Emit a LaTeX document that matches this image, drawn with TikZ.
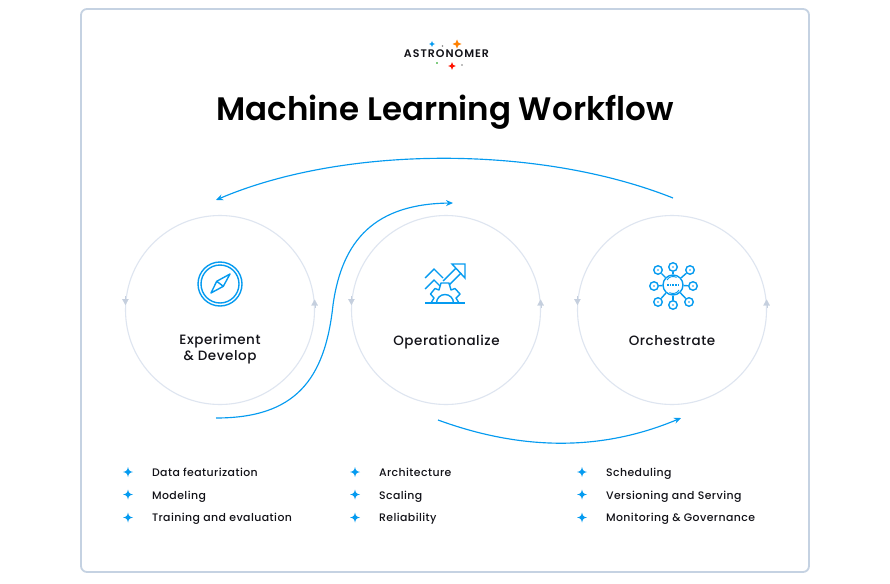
\documentclass[tikz,border=0pt]{standalone}
\usepackage{fontspec}
\usepackage{tikz}
\usetikzlibrary{arrows.meta,positioning}
\setmainfont{Poppins}
\newfontfamily\titlefont{Poppins SemiBold}
\newfontfamily\labelfont[LetterSpace=4]{Poppins Medium}
\newfontfamily\listfont[LetterSpace=4]{Poppins Medium}
\newfontfamily\logofont[LetterSpace=9]{Poppins SemiBold}
\definecolor{astroblue}{RGB}{5,155,240}
\definecolor{cardline}{RGB}{197,210,226}
\definecolor{ringline}{RGB}{222,229,240}
\definecolor{tipgray}{RGB}{197,207,222}
\definecolor{inkdark}{RGB}{18,18,24}
\newcommand{\sparkle}[3]{\fill[#1](#2)++(-#3,0)..controls +(.7*#3,.15*#3) and +(-.15*#3,-.7*#3)..++(#3,#3)..controls +(.15*#3,-.7*#3) and +(-.7*#3,.15*#3)..++(#3,-#3)..controls +(-.7*#3,-.15*#3) and +(.15*#3,.7*#3)..++(-#3,-#3)..controls +(-.15*#3,.7*#3) and +(.7*#3,-.15*#3)..cycle;}

\begin{document}
\begin{tikzpicture}[x=1pt,y=-1pt,
ring/.style={draw=ringline,line width=1.1pt,circle,minimum size=189pt,inner sep=0pt},
flow/.style={-{Stealth[length=7pt,width=6pt]},line width=1.15pt,draw=astroblue},
gtip/.style={-{Stealth[length=6pt,width=6.5pt,inset=0pt]},draw=tipgray,line width=.1pt},
icon/.style={draw=astroblue,line width=1.4pt},
sat/.style={draw=astroblue,line width=1.4pt,circle,minimum size=8.5pt,inner sep=0pt,
  path picture={\fill[astroblue](path picture bounding box.center)circle(.8);}},
hubnode/.style={draw=astroblue,line width=1.4pt,circle,minimum size=20pt,inner sep=0pt},
ringlabel/.style={font=\labelfont\fontsize{13.5}{16}\selectfont,text=inkdark,align=center},
listitem/.style={font=\listfont\fontsize{10.9}{13}\selectfont,text=inkdark,anchor=base west}]

\useasboundingbox(0,0)rectangle(890,583);
\fill[white](0,0)rectangle(890,583);
\draw[draw=cardline,line width=1.8pt,rounded corners=6pt](81,9)rectangle(809,572);

% logo
\node[font=\logofont\fontsize{11}{12}\selectfont,text=inkdark](logo)at(446.5,54){ASTRONOMER};
\sparkle{astroblue}{432,44}{3}
\sparkle{orange}{457,44}{4.5}
\sparkle{red!85!orange}{452,66}{3.8}
\fill[gray](442.5,46)circle(.8);
\fill[green!60!black](437,63)circle(.9);
\fill[gray](462,65)circle(.8);

\node[font=\titlefont\fontsize{32.5}{36}\selectfont,text=black](title)at(445,112){Machine Learning Workflow};

\node[ring](exp)at(220,310){};
\node[ring](ops)at(446,310){};
\node[ring](orc)at(672,310){};

\draw[gtip](314.6,308)--(314.6,299.5);
\draw[gtip](125.4,296)--(125.4,305);
\draw[gtip](540.6,308)--(540.6,299.5);
\draw[gtip](351.4,296)--(351.4,305);
\draw[gtip](766.6,308)--(766.6,299.5);
\draw[gtip](577.4,296)--(577.4,305);

\coordinate(topa)at(673,198);
\coordinate(topb)at(216,200);
\coordinate(mida)at(216,418);
\coordinate(midb)at(453,203);
\coordinate(lowa)at(438,420);
\coordinate(lowb)at(681,418);
\draw[flow](topa)..controls(540,145)and(345,145)..(topb);
\draw[flow](mida)..controls(295,418)and(325,380)..(333,305)..controls(342,240)and(375,204)..(midb);
\draw[flow](lowa)..controls(520,450)and(600,452)..(lowb);

% compass
\draw[icon](220,284)circle(22);
\draw[icon](220,284)circle(19);
\draw[icon,line join=round](230,274)--(223.3,286.3)--(211,293)--(216.7,281.3)--cycle;
\draw[icon](216.7,281.3)--(223.3,286.3);

% gear and trend
\draw[icon](425,303)--(465,303);
\draw[icon,line join=round](431,303)--(434,298)--(430.5,294)--(435,288.5)--(439,290)--(441,283)--(449,283)--(451,290)--(455,288.5)--(460,294)--(456,298)--(459,303);
\draw[icon](436.5,303)arc(180:360:8.5);
\draw[icon](425,278)--(434,269)--(443,278);
\draw[icon](425,289)--(434,280)--(440,286);
\draw[icon](443,281)--(456,268);
\draw[icon](449,285)--(461,273);
\draw[icon,line join=miter](452,264)--(465,264)--(465,278)--cycle;

% network
\node[hubnode](hub)at(673,285){};
\node[sat](s1)at(658,270){};
\node[sat](s2)at(673,267){};
\node[sat](s3)at(690,270){};
\node[sat](s4)at(654,286){};
\node[sat](s5)at(693,286){};
\node[sat](s6)at(658,302){};
\node[sat](s7)at(673,305){};
\node[sat](s8)at(689,302){};
\draw[icon](hub)--(s1);
\draw[icon](hub)--(s2);
\draw[icon](hub)--(s3);
\draw[icon](hub)--(s4);
\draw[icon](hub)--(s5);
\draw[icon](hub)--(s6);
\draw[icon](hub)--(s7);
\draw[icon](hub)--(s8);
\draw[icon,line width=1.1pt,dash pattern=on 1.5pt off 1.2pt](667,285)--(679,285);
\draw[icon,line width=.9pt](667,280)arc(210:300:7);
\draw[icon,line width=.9pt](679,290)arc(30:120:7);

\node[ringlabel](explabel)at(220,349.5){Experiment\\\& Develop};
\node[ringlabel,anchor=base](opslabel)at(446.5,345){Operationalize};
\node[ringlabel,anchor=base](orclabel)at(672,345){Orchestrate};

\sparkle{astroblue}{128,472}{5}
\sparkle{astroblue}{128,494.5}{5}
\sparkle{astroblue}{128,517.5}{5}
\sparkle{astroblue}{355,472}{5}
\sparkle{astroblue}{355,494.5}{5}
\sparkle{astroblue}{355,517.5}{5}
\sparkle{astroblue}{582,472}{5}
\sparkle{astroblue}{582,494.5}{5}
\sparkle{astroblue}{582,517.5}{5}

\node[listitem](i1)at(148.5,476){Data featurization};
\node[listitem](i2)at(148.5,499){Modeling};
\node[listitem](i3)at(148.5,521.5){Training and evaluation};
\node[listitem](i4)at(375.5,476){Architecture};
\node[listitem](i5)at(375.5,499){Scaling};
\node[listitem](i6)at(375.5,521.5){Reliability};
\node[listitem](i7)at(602.5,476){Scheduling};
\node[listitem](i8)at(602.5,499){Versioning and Serving};
\node[listitem](i9)at(602.5,521.5){Monitoring \& Governance};
\end{tikzpicture}
\end{document}
